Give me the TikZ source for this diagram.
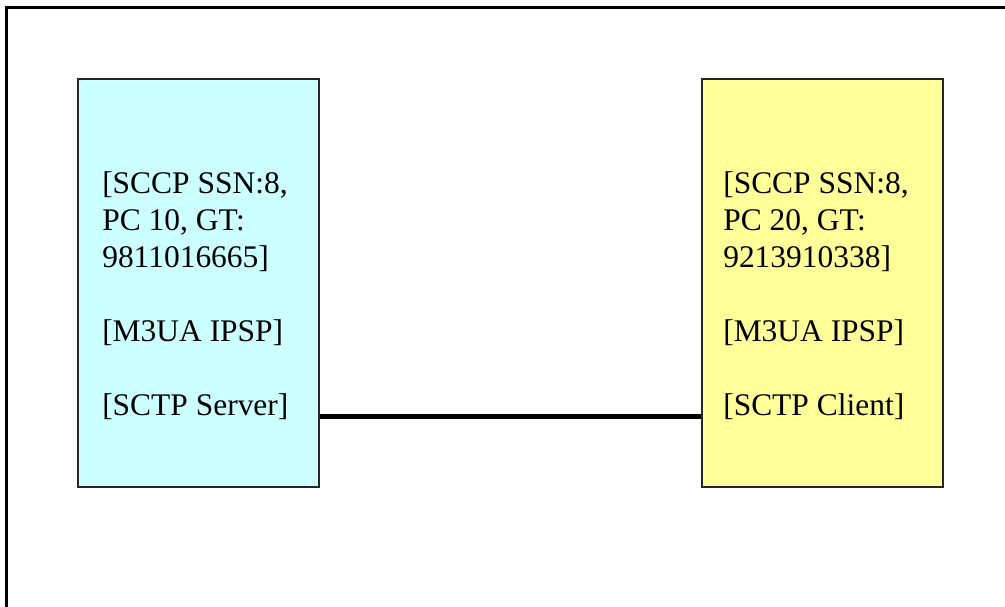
\documentclass[tikz,border=0pt]{standalone}
\usepackage{fontspec}
\setmainfont{Liberation Serif}
\usetikzlibrary{calc}
\definecolor{boxcyan}{HTML}{CCFFFF}
\definecolor{boxyellow}{HTML}{FFFF99}
\begin{document}
\begin{tikzpicture}[x=0.75pt,y=-0.75pt,
  box/.style={draw=black!85, line width=1pt, minimum width=180.75pt, minimum height=306pt, inner sep=0pt},
  lbl/.style={anchor=base west, inner sep=0pt, font=\fontsize{23.6pt}{27pt}\selectfont},
  frame/.style={draw=black, line width=1.6pt},
  link/.style={draw=black, line width=3.2pt}]
\useasboundingbox (0,0) rectangle (1005,606);
\clip (0,0) rectangle (1005,606);
\draw[frame] (6.5,640) -- (6.5,7.5) -- (1040,7.5);
\node[box, fill=boxcyan] (L) at (198.5,283) {};
\node[box, fill=boxyellow] (R) at (822.5,283) {};
\draw[link] ($(L.south east)!0.174!(L.north east)$) -- ($(R.south west)!0.174!(R.north west)$);
\node[lbl] (l1) at (102,193) {[SCCP SSN:8,};
\node[lbl] (l2) at (102,230) {PC 10, GT:};
\node[lbl] (l3) at (102,267) {9811016665]};
\node[lbl] (l4) at (102,341) {[M3UA IPSP]};
\node[lbl] (l5) at (102,415) {[SCTP Server]};
\node[lbl] (r1) at (723,193) {[SCCP SSN:8,};
\node[lbl] (r2) at (723,230) {PC 20, GT:};
\node[lbl] (r3) at (723,267) {9213910338]};
\node[lbl] (r4) at (723,341) {[M3UA IPSP]};
\node[lbl] (r5) at (723,415) {[SCTP Client]};
\end{tikzpicture}
\end{document}
